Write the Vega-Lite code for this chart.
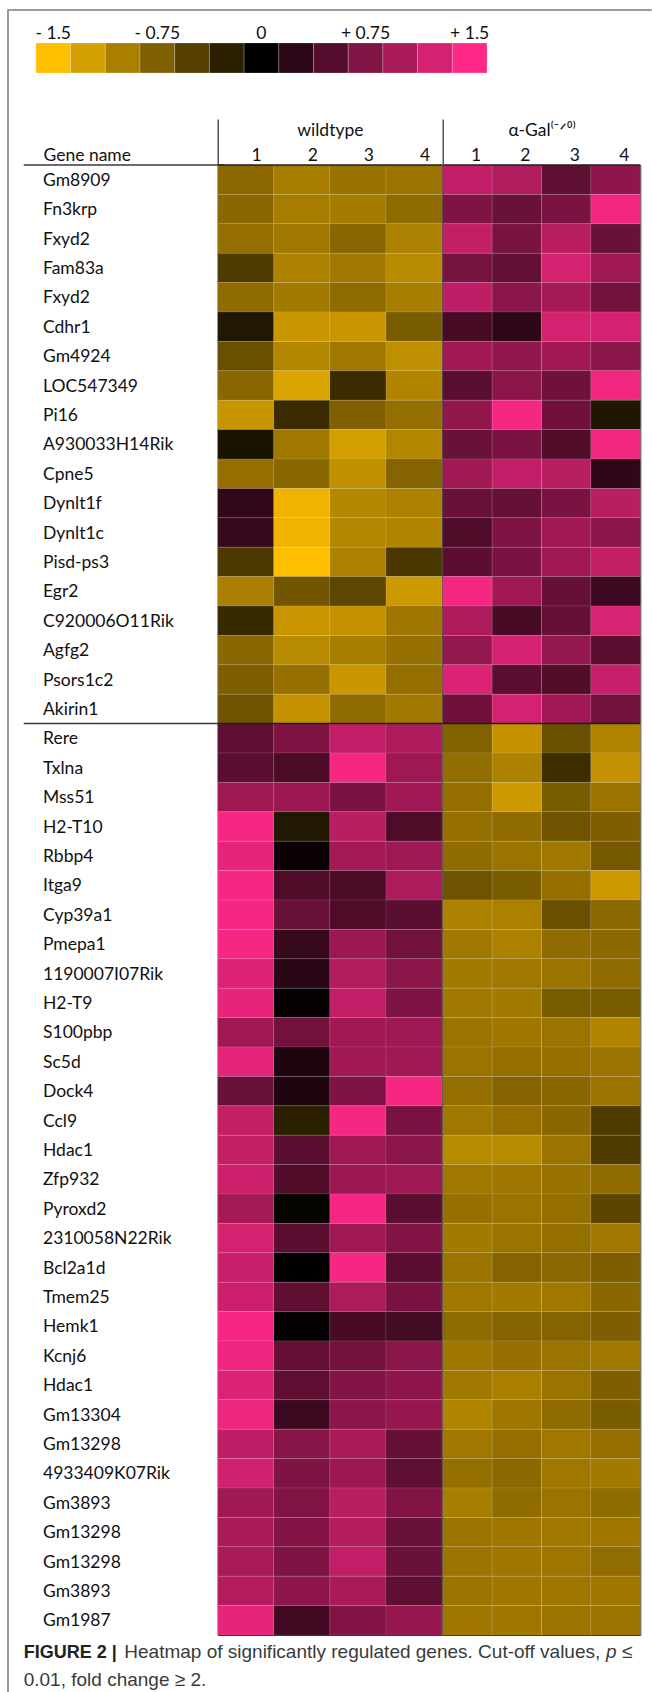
{
  "$schema": "https://vega.github.io/schema/vega-lite/v6.json",
  "padding": {"left": 6, "top": 8, "right": 0, "bottom": 0},
  "background": "white",
  "config": {"view": {"stroke": null}, "font": "Lato"},
  "datasets": {
    "key": [
      {"v": -1.5, "label": "- 1.5"}, {"v": -1.25, "label": ""}, {"v": -1.0, "label": ""},
      {"v": -0.75, "label": "- 0.75"}, {"v": -0.5, "label": ""}, {"v": -0.25, "label": ""},
      {"v": 0, "label": "0"}, {"v": 0.25, "label": ""}, {"v": 0.5, "label": ""},
      {"v": 0.75, "label": "+ 0.75"}, {"v": 1.0, "label": ""}, {"v": 1.25, "label": ""},
      {"v": 1.5, "label": "+ 1.5"}
    ],
    "breaks": [{"row": 1}, {"row": 20}],
    "caption": [
      {"line": "1", "part": "fig", "text": "FIGURE 2 |"},
      {"line": "1", "part": "body", "text": "Heatmap of significantly regulated genes. Cut-off values,"},
      {"line": "1", "part": "p", "text": "p"},
      {"line": "1", "part": "le", "text": "≤"},
      {"line": "2", "part": "line2", "text": "0.01, fold change ≥ 2."}
    ],
    "genes": [
      {"row": 1, "gene": "Gm8909"}, {"row": 2, "gene": "Fn3krp"}, {"row": 3, "gene": "Fxyd2"},
      {"row": 4, "gene": "Fam83a"}, {"row": 5, "gene": "Fxyd2"}, {"row": 6, "gene": "Cdhr1"},
      {"row": 7, "gene": "Gm4924"}, {"row": 8, "gene": "LOC547349"}, {"row": 9, "gene": "Pi16"},
      {"row": 10, "gene": "A930033H14Rik"}, {"row": 11, "gene": "Cpne5"}, {"row": 12, "gene": "Dynlt1f"},
      {"row": 13, "gene": "Dynlt1c"}, {"row": 14, "gene": "Pisd-ps3"}, {"row": 15, "gene": "Egr2"},
      {"row": 16, "gene": "C920006O11Rik"}, {"row": 17, "gene": "Agfg2"}, {"row": 18, "gene": "Psors1c2"},
      {"row": 19, "gene": "Akirin1"}, {"row": 20, "gene": "Rere"}, {"row": 21, "gene": "Txlna"},
      {"row": 22, "gene": "Mss51"}, {"row": 23, "gene": "H2-T10"}, {"row": 24, "gene": "Rbbp4"},
      {"row": 25, "gene": "Itga9"}, {"row": 26, "gene": "Cyp39a1"}, {"row": 27, "gene": "Pmepa1"},
      {"row": 28, "gene": "1190007I07Rik"}, {"row": 29, "gene": "H2-T9"}, {"row": 30, "gene": "S100pbp"},
      {"row": 31, "gene": "Sc5d"}, {"row": 32, "gene": "Dock4"}, {"row": 33, "gene": "Ccl9"},
      {"row": 34, "gene": "Hdac1"}, {"row": 35, "gene": "Zfp932"}, {"row": 36, "gene": "Pyroxd2"},
      {"row": 37, "gene": "2310058N22Rik"}, {"row": 38, "gene": "Bcl2a1d"}, {"row": 39, "gene": "Tmem25"},
      {"row": 40, "gene": "Hemk1"}, {"row": 41, "gene": "Kcnj6"}, {"row": 42, "gene": "Hdac1"},
      {"row": 43, "gene": "Gm13304"}, {"row": 44, "gene": "Gm13298"}, {"row": 45, "gene": "4933409K07Rik"},
      {"row": 46, "gene": "Gm3893"}, {"row": 47, "gene": "Gm13298"}, {"row": 48, "gene": "Gm13298"},
      {"row": 49, "gene": "Gm3893"}, {"row": 50, "gene": "Gm1987"}
    ],
    "cells": [
      {"row":1,"grp":"wt","rep":1,"v":-0.82},{"row":1,"grp":"wt","rep":2,"v":-0.98},{"row":1,"grp":"wt","rep":3,"v":-0.90},{"row":1,"grp":"wt","rep":4,"v":-0.91},
      {"row":1,"grp":"gal","rep":1,"v":1.14},{"row":1,"grp":"gal","rep":2,"v":1.04},{"row":1,"grp":"gal","rep":3,"v":0.56},{"row":1,"grp":"gal","rep":4,"v":0.84},
      {"row":2,"grp":"wt","rep":1,"v":-0.81},{"row":2,"grp":"wt","rep":2,"v":-0.98},{"row":2,"grp":"wt","rep":3,"v":-0.97},{"row":2,"grp":"wt","rep":4,"v":-0.84},
      {"row":2,"grp":"gal","rep":1,"v":0.74},{"row":2,"grp":"gal","rep":2,"v":0.62},{"row":2,"grp":"gal","rep":3,"v":0.72},{"row":2,"grp":"gal","rep":4,"v":1.41},
      {"row":3,"grp":"wt","rep":1,"v":-0.87},{"row":3,"grp":"wt","rep":2,"v":-0.94},{"row":3,"grp":"wt","rep":3,"v":-0.80},{"row":3,"grp":"wt","rep":4,"v":-1.01},
      {"row":3,"grp":"gal","rep":1,"v":1.15},{"row":3,"grp":"gal","rep":2,"v":0.71},{"row":3,"grp":"gal","rep":3,"v":1.08},{"row":3,"grp":"gal","rep":4,"v":0.62},
      {"row":4,"grp":"wt","rep":1,"v":-0.47},{"row":4,"grp":"wt","rep":2,"v":-1.02},{"row":4,"grp":"wt","rep":3,"v":-0.95},{"row":4,"grp":"wt","rep":4,"v":-1.08},
      {"row":4,"grp":"gal","rep":1,"v":0.70},{"row":4,"grp":"gal","rep":2,"v":0.59},{"row":4,"grp":"gal","rep":3,"v":1.25},{"row":4,"grp":"gal","rep":4,"v":0.94},
      {"row":5,"grp":"wt","rep":1,"v":-0.84},{"row":5,"grp":"wt","rep":2,"v":-0.96},{"row":5,"grp":"wt","rep":3,"v":-0.84},{"row":5,"grp":"wt","rep":4,"v":-0.99},
      {"row":5,"grp":"gal","rep":1,"v":1.12},{"row":5,"grp":"gal","rep":2,"v":0.82},{"row":5,"grp":"gal","rep":3,"v":0.97},{"row":5,"grp":"gal","rep":4,"v":0.67},
      {"row":6,"grp":"wt","rep":1,"v":-0.19},{"row":6,"grp":"wt","rep":2,"v":-1.18},{"row":6,"grp":"wt","rep":3,"v":-1.18},{"row":6,"grp":"wt","rep":4,"v":-0.72},
      {"row":6,"grp":"gal","rep":1,"v":0.42},{"row":6,"grp":"gal","rep":2,"v":0.27},{"row":6,"grp":"gal","rep":3,"v":1.25},{"row":6,"grp":"gal","rep":4,"v":1.25},
      {"row":7,"grp":"wt","rep":1,"v":-0.62},{"row":7,"grp":"wt","rep":2,"v":-1.06},{"row":7,"grp":"wt","rep":3,"v":-0.94},{"row":7,"grp":"wt","rep":4,"v":-1.12},
      {"row":7,"grp":"gal","rep":1,"v":0.94},{"row":7,"grp":"gal","rep":2,"v":0.85},{"row":7,"grp":"gal","rep":3,"v":0.94},{"row":7,"grp":"gal","rep":4,"v":0.82},
      {"row":8,"grp":"wt","rep":1,"v":-0.80},{"row":8,"grp":"wt","rep":2,"v":-1.29},{"row":8,"grp":"wt","rep":3,"v":-0.34},{"row":8,"grp":"wt","rep":4,"v":-1.04},
      {"row":8,"grp":"gal","rep":1,"v":0.53},{"row":8,"grp":"gal","rep":2,"v":0.81},{"row":8,"grp":"gal","rep":3,"v":0.65},{"row":8,"grp":"gal","rep":4,"v":1.41},
      {"row":9,"grp":"wt","rep":1,"v":-1.17},{"row":9,"grp":"wt","rep":2,"v":-0.34},{"row":9,"grp":"wt","rep":3,"v":-0.75},{"row":9,"grp":"wt","rep":4,"v":-0.87},
      {"row":9,"grp":"gal","rep":1,"v":0.86},{"row":9,"grp":"gal","rep":2,"v":1.45},{"row":9,"grp":"gal","rep":3,"v":0.65},{"row":9,"grp":"gal","rep":4,"v":-0.18},
      {"row":10,"grp":"wt","rep":1,"v":-0.15},{"row":10,"grp":"wt","rep":2,"v":-0.94},{"row":10,"grp":"wt","rep":3,"v":-1.25},{"row":10,"grp":"wt","rep":4,"v":-1.05},
      {"row":10,"grp":"gal","rep":1,"v":0.62},{"row":10,"grp":"gal","rep":2,"v":0.72},{"row":10,"grp":"gal","rep":3,"v":0.48},{"row":10,"grp":"gal","rep":4,"v":1.41},
      {"row":11,"grp":"wt","rep":1,"v":-0.87},{"row":11,"grp":"wt","rep":2,"v":-0.80},{"row":11,"grp":"wt","rep":3,"v":-1.13},{"row":11,"grp":"wt","rep":4,"v":-0.78},
      {"row":11,"grp":"gal","rep":1,"v":0.94},{"row":11,"grp":"gal","rep":2,"v":1.14},{"row":11,"grp":"gal","rep":3,"v":1.09},{"row":11,"grp":"gal","rep":4,"v":0.27},
      {"row":12,"grp":"wt","rep":1,"v":0.30},{"row":12,"grp":"wt","rep":2,"v":-1.41},{"row":12,"grp":"wt","rep":3,"v":-1.06},{"row":12,"grp":"wt","rep":4,"v":-1.02},
      {"row":12,"grp":"gal","rep":1,"v":0.62},{"row":12,"grp":"gal","rep":2,"v":0.60},{"row":12,"grp":"gal","rep":3,"v":0.72},{"row":12,"grp":"gal","rep":4,"v":1.09},
      {"row":13,"grp":"wt","rep":1,"v":0.32},{"row":13,"grp":"wt","rep":2,"v":-1.41},{"row":13,"grp":"wt","rep":3,"v":-1.05},{"row":13,"grp":"wt","rep":4,"v":-1.04},
      {"row":13,"grp":"gal","rep":1,"v":0.46},{"row":13,"grp":"gal","rep":2,"v":0.74},{"row":13,"grp":"gal","rep":3,"v":0.94},{"row":13,"grp":"gal","rep":4,"v":0.81},
      {"row":14,"grp":"wt","rep":1,"v":-0.45},{"row":14,"grp":"wt","rep":2,"v":-1.50},{"row":14,"grp":"wt","rep":3,"v":-1.01},{"row":14,"grp":"wt","rep":4,"v":-0.44},
      {"row":14,"grp":"gal","rep":1,"v":0.54},{"row":14,"grp":"gal","rep":2,"v":0.72},{"row":14,"grp":"gal","rep":3,"v":0.94},{"row":14,"grp":"gal","rep":4,"v":1.15},
      {"row":15,"grp":"wt","rep":1,"v":-1.00},{"row":15,"grp":"wt","rep":2,"v":-0.67},{"row":15,"grp":"wt","rep":3,"v":-0.55},{"row":15,"grp":"wt","rep":4,"v":-1.20},
      {"row":15,"grp":"gal","rep":1,"v":1.45},{"row":15,"grp":"gal","rep":2,"v":0.94},{"row":15,"grp":"gal","rep":3,"v":0.60},{"row":15,"grp":"gal","rep":4,"v":0.34},
      {"row":16,"grp":"wt","rep":1,"v":-0.33},{"row":16,"grp":"wt","rep":2,"v":-1.18},{"row":16,"grp":"wt","rep":3,"v":-1.15},{"row":16,"grp":"wt","rep":4,"v":-0.93},
      {"row":16,"grp":"gal","rep":1,"v":1.02},{"row":16,"grp":"gal","rep":2,"v":0.42},{"row":16,"grp":"gal","rep":3,"v":0.60},{"row":16,"grp":"gal","rep":4,"v":1.27},
      {"row":17,"grp":"wt","rep":1,"v":-0.81},{"row":17,"grp":"wt","rep":2,"v":-1.09},{"row":17,"grp":"wt","rep":3,"v":-0.99},{"row":17,"grp":"wt","rep":4,"v":-0.88},
      {"row":17,"grp":"gal","rep":1,"v":0.87},{"row":17,"grp":"gal","rep":2,"v":1.25},{"row":17,"grp":"gal","rep":3,"v":0.87},{"row":17,"grp":"gal","rep":4,"v":0.53},
      {"row":18,"grp":"wt","rep":1,"v":-0.74},{"row":18,"grp":"wt","rep":2,"v":-0.88},{"row":18,"grp":"wt","rep":3,"v":-1.18},{"row":18,"grp":"wt","rep":4,"v":-0.87},
      {"row":18,"grp":"gal","rep":1,"v":1.29},{"row":18,"grp":"gal","rep":2,"v":0.53},{"row":18,"grp":"gal","rep":3,"v":0.48},{"row":18,"grp":"gal","rep":4,"v":1.18},
      {"row":19,"grp":"wt","rep":1,"v":-0.66},{"row":19,"grp":"wt","rep":2,"v":-1.15},{"row":19,"grp":"wt","rep":3,"v":-0.84},{"row":19,"grp":"wt","rep":4,"v":-0.95},
      {"row":19,"grp":"gal","rep":1,"v":0.65},{"row":19,"grp":"gal","rep":2,"v":1.25},{"row":19,"grp":"gal","rep":3,"v":0.94},{"row":19,"grp":"gal","rep":4,"v":0.67},
      {"row":20,"grp":"wt","rep":1,"v":0.55},{"row":20,"grp":"wt","rep":2,"v":0.74},{"row":20,"grp":"wt","rep":3,"v":1.14},{"row":20,"grp":"wt","rep":4,"v":1.02},
      {"row":20,"grp":"gal","rep":1,"v":-0.76},{"row":20,"grp":"gal","rep":2,"v":-1.15},{"row":20,"grp":"gal","rep":3,"v":-0.62},{"row":20,"grp":"gal","rep":4,"v":-1.04},
      {"row":21,"grp":"wt","rep":1,"v":0.53},{"row":21,"grp":"wt","rep":2,"v":0.44},{"row":21,"grp":"wt","rep":3,"v":1.45},{"row":21,"grp":"wt","rep":4,"v":0.93},
      {"row":21,"grp":"gal","rep":1,"v":-0.86},{"row":21,"grp":"gal","rep":2,"v":-1.02},{"row":21,"grp":"gal","rep":3,"v":-0.36},{"row":21,"grp":"gal","rep":4,"v":-1.15},
      {"row":22,"grp":"wt","rep":1,"v":0.93},{"row":22,"grp":"wt","rep":2,"v":0.91},{"row":22,"grp":"wt","rep":3,"v":0.72},{"row":22,"grp":"wt","rep":4,"v":0.94},
      {"row":22,"grp":"gal","rep":1,"v":-0.87},{"row":22,"grp":"gal","rep":2,"v":-1.20},{"row":22,"grp":"gal","rep":3,"v":-0.72},{"row":22,"grp":"gal","rep":4,"v":-0.91},
      {"row":23,"grp":"wt","rep":1,"v":1.45},{"row":23,"grp":"wt","rep":2,"v":-0.19},{"row":23,"grp":"wt","rep":3,"v":1.09},{"row":23,"grp":"wt","rep":4,"v":0.46},
      {"row":23,"grp":"gal","rep":1,"v":-0.87},{"row":23,"grp":"gal","rep":2,"v":-0.84},{"row":23,"grp":"gal","rep":3,"v":-0.65},{"row":23,"grp":"gal","rep":4,"v":-0.74},
      {"row":24,"grp":"wt","rep":1,"v":1.36},{"row":24,"grp":"wt","rep":2,"v":0.07},{"row":24,"grp":"wt","rep":3,"v":0.96},{"row":24,"grp":"wt","rep":4,"v":0.92},
      {"row":24,"grp":"gal","rep":1,"v":-0.84},{"row":24,"grp":"gal","rep":2,"v":-0.91},{"row":24,"grp":"gal","rep":3,"v":-0.95},{"row":24,"grp":"gal","rep":4,"v":-0.69},
      {"row":25,"grp":"wt","rep":1,"v":1.45},{"row":25,"grp":"wt","rep":2,"v":0.46},{"row":25,"grp":"wt","rep":3,"v":0.44},{"row":25,"grp":"wt","rep":4,"v":1.01},
      {"row":25,"grp":"gal","rep":1,"v":-0.65},{"row":25,"grp":"gal","rep":2,"v":-0.72},{"row":25,"grp":"gal","rep":3,"v":-0.87},{"row":25,"grp":"gal","rep":4,"v":-1.20},
      {"row":26,"grp":"wt","rep":1,"v":1.45},{"row":26,"grp":"wt","rep":2,"v":0.62},{"row":26,"grp":"wt","rep":3,"v":0.46},{"row":26,"grp":"wt","rep":4,"v":0.53},
      {"row":26,"grp":"gal","rep":1,"v":-1.02},{"row":26,"grp":"gal","rep":2,"v":-1.01},{"row":26,"grp":"gal","rep":3,"v":-0.62},{"row":26,"grp":"gal","rep":4,"v":-0.82},
      {"row":27,"grp":"wt","rep":1,"v":1.45},{"row":27,"grp":"wt","rep":2,"v":0.32},{"row":27,"grp":"wt","rep":3,"v":0.91},{"row":27,"grp":"wt","rep":4,"v":0.67},
      {"row":27,"grp":"gal","rep":1,"v":-0.95},{"row":27,"grp":"gal","rep":2,"v":-1.01},{"row":27,"grp":"gal","rep":3,"v":-0.84},{"row":27,"grp":"gal","rep":4,"v":-0.82},
      {"row":28,"grp":"wt","rep":1,"v":1.29},{"row":28,"grp":"wt","rep":2,"v":0.24},{"row":28,"grp":"wt","rep":3,"v":1.04},{"row":28,"grp":"wt","rep":4,"v":0.81},
      {"row":28,"grp":"gal","rep":1,"v":-0.96},{"row":28,"grp":"gal","rep":2,"v":-0.94},{"row":28,"grp":"gal","rep":3,"v":-0.91},{"row":28,"grp":"gal","rep":4,"v":-0.84},
      {"row":29,"grp":"wt","rep":1,"v":1.36},{"row":29,"grp":"wt","rep":2,"v":0.03},{"row":29,"grp":"wt","rep":3,"v":1.13},{"row":29,"grp":"wt","rep":4,"v":0.74},
      {"row":29,"grp":"gal","rep":1,"v":-0.94},{"row":29,"grp":"gal","rep":2,"v":-0.96},{"row":29,"grp":"gal","rep":3,"v":-0.72},{"row":29,"grp":"gal","rep":4,"v":-0.72},
      {"row":30,"grp":"wt","rep":1,"v":0.94},{"row":30,"grp":"wt","rep":2,"v":0.67},{"row":30,"grp":"wt","rep":3,"v":0.94},{"row":30,"grp":"wt","rep":4,"v":0.93},
      {"row":30,"grp":"gal","rep":1,"v":-0.91},{"row":30,"grp":"gal","rep":2,"v":-0.93},{"row":30,"grp":"gal","rep":3,"v":-0.91},{"row":30,"grp":"gal","rep":4,"v":-1.04},
      {"row":31,"grp":"wt","rep":1,"v":1.34},{"row":31,"grp":"wt","rep":2,"v":0.18},{"row":31,"grp":"wt","rep":3,"v":0.94},{"row":31,"grp":"wt","rep":4,"v":0.94},
      {"row":31,"grp":"gal","rep":1,"v":-0.91},{"row":31,"grp":"gal","rep":2,"v":-0.87},{"row":31,"grp":"gal","rep":3,"v":-0.88},{"row":31,"grp":"gal","rep":4,"v":-0.91},
      {"row":32,"grp":"wt","rep":1,"v":0.62},{"row":32,"grp":"wt","rep":2,"v":0.18},{"row":32,"grp":"wt","rep":3,"v":0.74},{"row":32,"grp":"wt","rep":4,"v":1.45},
      {"row":32,"grp":"gal","rep":1,"v":-0.87},{"row":32,"grp":"gal","rep":2,"v":-0.78},{"row":32,"grp":"gal","rep":3,"v":-0.81},{"row":32,"grp":"gal","rep":4,"v":-0.91},
      {"row":33,"grp":"wt","rep":1,"v":1.15},{"row":33,"grp":"wt","rep":2,"v":-0.25},{"row":33,"grp":"wt","rep":3,"v":1.45},{"row":33,"grp":"wt","rep":4,"v":0.72},
      {"row":33,"grp":"gal","rep":1,"v":-0.94},{"row":33,"grp":"gal","rep":2,"v":-0.87},{"row":33,"grp":"gal","rep":3,"v":-0.81},{"row":33,"grp":"gal","rep":4,"v":-0.46},
      {"row":34,"grp":"wt","rep":1,"v":1.15},{"row":34,"grp":"wt","rep":2,"v":0.53},{"row":34,"grp":"wt","rep":3,"v":0.94},{"row":34,"grp":"wt","rep":4,"v":0.81},
      {"row":34,"grp":"gal","rep":1,"v":-1.08},{"row":34,"grp":"gal","rep":2,"v":-1.08},{"row":34,"grp":"gal","rep":3,"v":-0.91},{"row":34,"grp":"gal","rep":4,"v":-0.46},
      {"row":35,"grp":"wt","rep":1,"v":1.20},{"row":35,"grp":"wt","rep":2,"v":0.48},{"row":35,"grp":"wt","rep":3,"v":0.91},{"row":35,"grp":"wt","rep":4,"v":0.93},
      {"row":35,"grp":"gal","rep":1,"v":-0.94},{"row":35,"grp":"gal","rep":2,"v":-0.93},{"row":35,"grp":"gal","rep":3,"v":-0.90},{"row":35,"grp":"gal","rep":4,"v":-0.84},
      {"row":36,"grp":"wt","rep":1,"v":0.96},{"row":36,"grp":"wt","rep":2,"v":-0.04},{"row":36,"grp":"wt","rep":3,"v":1.45},{"row":36,"grp":"wt","rep":4,"v":0.53},
      {"row":36,"grp":"gal","rep":1,"v":-0.88},{"row":36,"grp":"gal","rep":2,"v":-0.91},{"row":36,"grp":"gal","rep":3,"v":-0.87},{"row":36,"grp":"gal","rep":4,"v":-0.54},
      {"row":37,"grp":"wt","rep":1,"v":1.25},{"row":37,"grp":"wt","rep":2,"v":0.54},{"row":37,"grp":"wt","rep":3,"v":0.94},{"row":37,"grp":"wt","rep":4,"v":0.76},
      {"row":37,"grp":"gal","rep":1,"v":-0.96},{"row":37,"grp":"gal","rep":2,"v":-0.91},{"row":37,"grp":"gal","rep":3,"v":-0.87},{"row":37,"grp":"gal","rep":4,"v":-0.94},
      {"row":38,"grp":"wt","rep":1,"v":1.18},{"row":38,"grp":"wt","rep":2,"v":0.01},{"row":38,"grp":"wt","rep":3,"v":1.45},{"row":38,"grp":"wt","rep":4,"v":0.54},
      {"row":38,"grp":"gal","rep":1,"v":-0.91},{"row":38,"grp":"gal","rep":2,"v":-0.78},{"row":38,"grp":"gal","rep":3,"v":-0.82},{"row":38,"grp":"gal","rep":4,"v":-0.74},
      {"row":39,"grp":"wt","rep":1,"v":1.20},{"row":39,"grp":"wt","rep":2,"v":0.55},{"row":39,"grp":"wt","rep":3,"v":1.01},{"row":39,"grp":"wt","rep":4,"v":0.72},
      {"row":39,"grp":"gal","rep":1,"v":-0.94},{"row":39,"grp":"gal","rep":2,"v":-0.96},{"row":39,"grp":"gal","rep":3,"v":-0.94},{"row":39,"grp":"gal","rep":4,"v":-0.81},
      {"row":40,"grp":"wt","rep":1,"v":1.45},{"row":40,"grp":"wt","rep":2,"v":0.03},{"row":40,"grp":"wt","rep":3,"v":0.42},{"row":40,"grp":"wt","rep":4,"v":0.40},
      {"row":40,"grp":"gal","rep":1,"v":-0.84},{"row":40,"grp":"gal","rep":2,"v":-0.78},{"row":40,"grp":"gal","rep":3,"v":-0.78},{"row":40,"grp":"gal","rep":4,"v":-0.74},
      {"row":41,"grp":"wt","rep":1,"v":1.40},{"row":41,"grp":"wt","rep":2,"v":0.60},{"row":41,"grp":"wt","rep":3,"v":0.67},{"row":41,"grp":"wt","rep":4,"v":0.81},
      {"row":41,"grp":"gal","rep":1,"v":-0.93},{"row":41,"grp":"gal","rep":2,"v":-0.88},{"row":41,"grp":"gal","rep":3,"v":-0.91},{"row":41,"grp":"gal","rep":4,"v":-0.94},
      {"row":42,"grp":"wt","rep":1,"v":1.29},{"row":42,"grp":"wt","rep":2,"v":0.55},{"row":42,"grp":"wt","rep":3,"v":0.76},{"row":42,"grp":"wt","rep":4,"v":0.84},
      {"row":42,"grp":"gal","rep":1,"v":-0.94},{"row":42,"grp":"gal","rep":2,"v":-1.00},{"row":42,"grp":"gal","rep":3,"v":-0.91},{"row":42,"grp":"gal","rep":4,"v":-0.74},
      {"row":43,"grp":"wt","rep":1,"v":1.39},{"row":43,"grp":"wt","rep":2,"v":0.34},{"row":43,"grp":"wt","rep":3,"v":0.82},{"row":43,"grp":"wt","rep":4,"v":0.88},
      {"row":43,"grp":"gal","rep":1,"v":-1.04},{"row":43,"grp":"gal","rep":2,"v":-0.93},{"row":43,"grp":"gal","rep":3,"v":-0.84},{"row":43,"grp":"gal","rep":4,"v":-0.72},
      {"row":44,"grp":"wt","rep":1,"v":1.12},{"row":44,"grp":"wt","rep":2,"v":0.80},{"row":44,"grp":"wt","rep":3,"v":1.00},{"row":44,"grp":"wt","rep":4,"v":0.60},
      {"row":44,"grp":"gal","rep":1,"v":-0.94},{"row":44,"grp":"gal","rep":2,"v":-0.87},{"row":44,"grp":"gal","rep":3,"v":-0.94},{"row":44,"grp":"gal","rep":4,"v":-0.87},
      {"row":45,"grp":"wt","rep":1,"v":1.22},{"row":45,"grp":"wt","rep":2,"v":0.74},{"row":45,"grp":"wt","rep":3,"v":0.91},{"row":45,"grp":"wt","rep":4,"v":0.56},
      {"row":45,"grp":"gal","rep":1,"v":-0.87},{"row":45,"grp":"gal","rep":2,"v":-0.82},{"row":45,"grp":"gal","rep":3,"v":-0.94},{"row":45,"grp":"gal","rep":4,"v":-0.96},
      {"row":46,"grp":"wt","rep":1,"v":0.94},{"row":46,"grp":"wt","rep":2,"v":0.76},{"row":46,"grp":"wt","rep":3,"v":1.09},{"row":46,"grp":"wt","rep":4,"v":0.76},
      {"row":46,"grp":"gal","rep":1,"v":-0.99},{"row":46,"grp":"gal","rep":2,"v":-0.84},{"row":46,"grp":"gal","rep":3,"v":-0.91},{"row":46,"grp":"gal","rep":4,"v":-0.84},
      {"row":47,"grp":"wt","rep":1,"v":1.00},{"row":47,"grp":"wt","rep":2,"v":0.76},{"row":47,"grp":"wt","rep":3,"v":1.06},{"row":47,"grp":"wt","rep":4,"v":0.62},
      {"row":47,"grp":"gal","rep":1,"v":-0.92},{"row":47,"grp":"gal","rep":2,"v":-0.93},{"row":47,"grp":"gal","rep":3,"v":-0.94},{"row":47,"grp":"gal","rep":4,"v":-0.93},
      {"row":48,"grp":"wt","rep":1,"v":0.99},{"row":48,"grp":"wt","rep":2,"v":0.74},{"row":48,"grp":"wt","rep":3,"v":1.13},{"row":48,"grp":"wt","rep":4,"v":0.62},
      {"row":48,"grp":"gal","rep":1,"v":-0.92},{"row":48,"grp":"gal","rep":2,"v":-0.93},{"row":48,"grp":"gal","rep":3,"v":-0.93},{"row":48,"grp":"gal","rep":4,"v":-0.85},
      {"row":49,"grp":"wt","rep":1,"v":1.06},{"row":49,"grp":"wt","rep":2,"v":0.84},{"row":49,"grp":"wt","rep":3,"v":0.99},{"row":49,"grp":"wt","rep":4,"v":0.56},
      {"row":49,"grp":"gal","rep":1,"v":-0.91},{"row":49,"grp":"gal","rep":2,"v":-0.93},{"row":49,"grp":"gal","rep":3,"v":-0.93},{"row":49,"grp":"gal","rep":4,"v":-0.93},
      {"row":50,"grp":"wt","rep":1,"v":1.36},{"row":50,"grp":"wt","rep":2,"v":0.38},{"row":50,"grp":"wt","rep":3,"v":0.76},{"row":50,"grp":"wt","rep":4,"v":0.88},
      {"row":50,"grp":"gal","rep":1,"v":-0.93},{"row":50,"grp":"gal","rep":2,"v":-0.93},{"row":50,"grp":"gal","rep":3,"v":-0.92},{"row":50,"grp":"gal","rep":4,"v":-0.91}
    ]
  },
  "bounds": "flush",
  "spacing": 0,
  "vconcat": [
    {
      "width": 644, "height": 1,
      "data": {"values": []},
      "mark": "rect",
      "encoding": {},
      "view": {"stroke": "#9a9a9a", "strokeWidth": 1}
    },
    {
      "bounds": "flush",
      "spacing": 15.7,
      "hconcat": [
        {
          "width": 1, "height": 1682,
          "data": {"values": []},
          "mark": "rect",
          "encoding": {},
          "view": {"stroke": "#9a9a9a", "strokeWidth": 1}
        },
        {
          "bounds": "full",
          "spacing": 0,
          "vconcat": [
            {
              "width": 463.3, "height": 106.35,
              "data": {"name": "key"},
              "layer": [
                {
                  "mark": {"type": "rect", "stroke": "#ffffff", "strokeWidth": 0.6, "strokeOpacity": 0.35},
                  "encoding": {
                    "x": {"field": "v", "type": "ordinal", "sort": "ascending", "axis": null,
                          "scale": {"paddingInner": 0, "paddingOuter": 0.1758, "align": 1}},
                    "y": {"datum": "key", "type": "nominal", "axis": null,
                          "scale": {"paddingInner": 0.2141, "paddingOuter": 1, "align": 0.4322}},
                    "color": {"field": "v", "type": "quantitative", "legend": null,
                              "scale": {"type": "linear", "domain": [-1.5, 0, 1.5], "range": ["#ffbf00", "#000000", "#ff2887"], "interpolate": "rgb", "clamp": true}}
                  }
                },
                {
                  "transform": [{"filter": "datum.label != ''"}],
                  "mark": {"type": "text", "baseline": "alphabetic", "align": "center", "dy": -4, "font": "Lato", "fontSize": 17.5, "color": "#111111"},
                  "encoding": {
                    "x": {"field": "v", "type": "ordinal", "sort": "ascending", "axis": null},
                    "y": {"datum": "key", "type": "nominal", "axis": null, "bandPosition": 0},
                    "text": {"field": "label"}
                  }
                }
              ]
            },
            {
              "bounds": "flush",
              "spacing": 0,
              "hconcat": [
                {
                  "width": 193.6, "height": 1470,
                  "layer": [
                    {
                      "data": {"name": "genes"},
                      "mark": {"type": "text", "align": "left", "baseline": "alphabetic", "dx": 19.3, "dy": 6, "font": "Lato", "fontSize": 17.5, "color": "#111111"},
                      "encoding": {
                        "x": {"datum": 0, "type": "quantitative", "scale": {"domain": [0, 1]}, "axis": null},
                        "y": {"field": "row", "type": "ordinal", "scale": {"paddingInner": 0, "paddingOuter": 0},
                              "axis": {"title": "Gene name", "labels": false, "ticks": false, "domain": false, "grid": false,
                                       "titleAngle": 0, "titleX": 19.3, "titleY": -5, "titleAlign": "left", "titleBaseline": "alphabetic",
                                       "titleFont": "Lato", "titleFontSize": 17.5, "titleFontWeight": "normal", "titleColor": "#111111"}},
                        "text": {"field": "gene"}
                      }
                    },
                    {
                      "data": {"name": "breaks"},
                      "mark": {"type": "rule", "color": "#3a3a3a", "strokeWidth": 1.5, "xOffset": 7.3},
                      "encoding": {
                        "y": {"field": "row", "type": "ordinal", "bandPosition": 0,
                              "axis": {"title": "Gene name", "labels": false, "ticks": false, "domain": false, "grid": false,
                                       "titleAngle": 0, "titleX": 19.3, "titleY": -5, "titleAlign": "left", "titleBaseline": "alphabetic",
                                       "titleFont": "Lato", "titleFontSize": 17.5, "titleFontWeight": "normal", "titleColor": "#111111"}}
                      }
                    }
                  ]
                },
                {
                  "width": 224.4, "height": 1470,
                  "view": {"stroke": "#2e2e2e", "strokeWidth": 1},
                  "layer": [
                    {
                      "data": {"name": "cells"},
                      "transform": [{"filter": "datum.grp == 'wt'"}],
                      "mark": {"type": "rect", "stroke": "#ffffff", "strokeWidth": 0.5, "strokeOpacity": 0.2},
                      "encoding": {
                        "x": {"field": "rep", "type": "ordinal", "scale": {"paddingInner": 0, "paddingOuter": 0},
                              "axis": {"orient": "top", "title": "wildtype", "titleFont": "Lato", "titleFontSize": 17.5, "titleFontWeight": "normal",
                                       "titleColor": "#111111", "titleX": 112.2, "titleY": -30, "titleAlign": "center", "titleBaseline": "alphabetic", "titleAngle": 0,
                                       "labelAngle": 0, "labelAlign": "right", "labelBaseline": "alphabetic", "labelOffset": 16, "labelPadding": -41,
                                       "labelFont": "Lato", "labelFontSize": 17.5, "labelColor": "#111111",
                                       "domain": false, "ticks": true, "tickSize": 46, "tickWidth": 1.3, "tickColor": "#3a3a3a", "bandPosition": 0,
                                       "tickOpacity": {"condition": {"test": "datum.value == 1", "value": 1}, "value": 0}}},
                        "y": {"field": "row", "type": "ordinal", "scale": {"paddingInner": 0, "paddingOuter": 0}, "axis": null},
                        "color": {"field": "v", "type": "quantitative", "legend": null,
                                  "scale": {"type": "linear", "domain": [-1.5, 0, 1.5], "range": ["#ffbf00", "#000000", "#ff2887"], "interpolate": "rgb", "clamp": true}}
                      }
                    },
                    {
                      "data": {"name": "breaks"},
                      "mark": {"type": "rule", "color": "#1e1e1e", "strokeWidth": 1.5},
                      "encoding": {"y": {"field": "row", "type": "ordinal", "bandPosition": 0, "axis": null}}
                    }
                  ]
                },
                {
                  "width": 197.6, "height": 1470,
                  "view": {"stroke": "#2e2e2e", "strokeWidth": 1},
                  "layer": [
                    {
                      "data": {"name": "cells"},
                      "transform": [{"filter": "datum.grp == 'gal'"}],
                      "mark": {"type": "rect", "stroke": "#ffffff", "strokeWidth": 0.5, "strokeOpacity": 0.2},
                      "encoding": {
                        "x": {"field": "rep", "type": "ordinal", "scale": {"paddingInner": 0, "paddingOuter": 0},
                              "axis": {"orient": "top", "title": "α-Gal⁽⁻ᐟ⁰⁾", "titleFont": "Lato, DejaVu Sans", "titleFontSize": 17.5, "titleFontWeight": "normal",
                                       "titleColor": "#111111", "titleX": 98.8, "titleY": -30, "titleAlign": "center", "titleBaseline": "alphabetic", "titleAngle": 0,
                                       "labelAngle": 0, "labelAlign": "right", "labelBaseline": "alphabetic", "labelOffset": 13.7, "labelPadding": -41,
                                       "labelFont": "Lato", "labelFontSize": 17.5, "labelColor": "#111111",
                                       "domain": false, "ticks": true, "tickSize": 46, "tickWidth": 1.3, "tickColor": "#3a3a3a", "bandPosition": 0,
                                       "tickOpacity": {"condition": {"test": "datum.value == 1", "value": 1}, "value": 0}}},
                        "y": {"field": "row", "type": "ordinal", "scale": {"paddingInner": 0, "paddingOuter": 0}, "axis": null},
                        "color": {"field": "v", "type": "quantitative", "legend": null,
                                  "scale": {"type": "linear", "domain": [-1.5, 0, 1.5], "range": ["#ffbf00", "#000000", "#ff2887"], "interpolate": "rgb", "clamp": true}}
                      }
                    },
                    {
                      "data": {"name": "breaks"},
                      "mark": {"type": "rule", "color": "#1e1e1e", "strokeWidth": 1.5},
                      "encoding": {"y": {"field": "row", "type": "ordinal", "bandPosition": 0, "axis": null}}
                    }
                  ]
                }
              ]
            },
            {
              "width": 607, "height": 57,
              "data": {"name": "caption"},
              "encoding": {
                "x": {"datum": 0, "type": "quantitative", "scale": {"domain": [0, 1]}, "axis": null},
                "y": {"field": "line", "type": "ordinal", "bandPosition": 1, "axis": null,
                      "scale": {"paddingInner": 0, "paddingOuter": 0.357, "align": 0.767}},
                "text": {"field": "text"}
              },
              "layer": [
                {"transform": [{"filter": "datum.part == 'fig'"}],
                 "mark": {"type": "text", "align": "left", "baseline": "alphabetic", "dx": 0, "font": "Liberation Sans", "fontWeight": "bold", "fontSize": 18, "color": "#222222"}},
                {"transform": [{"filter": "datum.part == 'body'"}],
                 "mark": {"type": "text", "align": "left", "baseline": "alphabetic", "dx": 100.6, "font": "Liberation Sans", "fontSize": 19, "color": "#3a3a3a"}},
                {"transform": [{"filter": "datum.part == 'p'"}],
                 "mark": {"type": "text", "align": "left", "baseline": "alphabetic", "dx": 582.3, "font": "Liberation Sans", "fontStyle": "italic", "fontSize": 19, "color": "#3a3a3a"}},
                {"transform": [{"filter": "datum.part == 'le'"}],
                 "mark": {"type": "text", "align": "left", "baseline": "alphabetic", "dx": 598.3, "font": "Liberation Sans", "fontSize": 19, "color": "#3a3a3a"}},
                {"transform": [{"filter": "datum.part == 'line2'"}],
                 "mark": {"type": "text", "align": "left", "baseline": "alphabetic", "dx": 0, "font": "Liberation Sans", "fontSize": 19, "color": "#3a3a3a"}}
              ]
            }
          ]
        }
      ]
    }
  ]
}
